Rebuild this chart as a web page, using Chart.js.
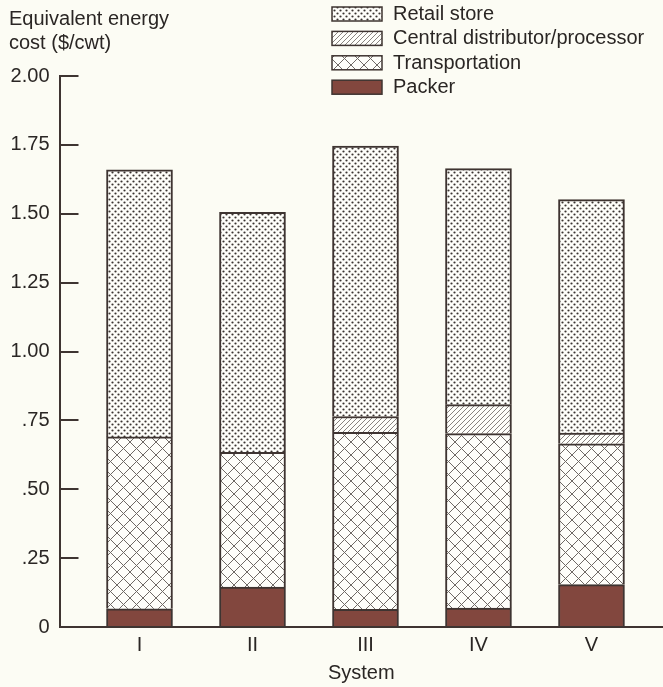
<!DOCTYPE html>
<html>
<head>
<meta charset="utf-8">
<script src="https://cdn.jsdelivr.net/npm/chart.js@4"></script>
<style>
  html, body { margin: 0; padding: 0; background: #fcfcf4; }
  #wrap { width: 663px; height: 687px; }
</style>
</head>
<body>
<div id="wrap"><canvas id="grafico"></canvas></div>
<script>
// data
const categories = ['I', 'II', 'III', 'IV', 'V'];
const packer = [0.066, 0.145, 0.064, 0.069, 0.154];
const transportation = [0.624, 0.489, 0.643, 0.633, 0.511];
const centralDist = [0, 0, 0.057, 0.105, 0.039];
const retail = [0.969, 0.871, 0.982, 0.857, 0.847];
const tickLabels = ['0', '.25', '.50', '.75', '1.00', '1.25', '1.50', '1.75', '2.00'];

const ink = '#3e3431';
const textColor = '#2a2624';
const paper = '#fcfcf4';
const font = '"Liberation Sans", Arial, sans-serif';

function makePattern(w, h, draw) {
    const c = document.createElement('canvas');
    c.width = w; c.height = h;
    const g = c.getContext('2d');
    g.fillStyle = '#fefefa';
    g.fillRect(0, 0, w, h);
    draw(g);
    return c.getContext('2d').createPattern(c, 'repeat');
}

const dots = makePattern(6, 6, function(g) {
    g.fillStyle = '#3a3431';
    [[1.5, 1.5], [4.5, 4.5]].forEach(function(p) {
        g.beginPath(); g.arc(p[0], p[1], 1.1, 0, Math.PI * 2); g.fill();
    });
});

const hatch = makePattern(5, 5, function(g) {
    g.strokeStyle = '#7a7471';
    g.lineWidth = 0.9;
    g.beginPath();
    g.moveTo(-1, 6); g.lineTo(6, -1);
    g.moveTo(-1, 1); g.lineTo(1, -1);
    g.moveTo(4, 6); g.lineTo(6, 4);
    g.stroke();
});

const cross = makePattern(13, 13, function(g) {
    g.strokeStyle = '#6f6965';
    g.lineWidth = 1;
    g.beginPath();
    g.moveTo(0, 0); g.lineTo(13, 13);
    g.moveTo(13, 0); g.lineTo(0, 13);
    g.stroke();
});

function pts(arr) {
    return arr.map(function(v, i) { return { x: i + 1, y: v }; });
}

const series = [
    { label: 'Packer', data: pts(packer), backgroundColor: '#82473e' },
    { label: 'Transportation', data: pts(transportation), backgroundColor: cross },
    { label: 'Central distributor/processor', data: pts(centralDist), backgroundColor: hatch },
    { label: 'Retail store', data: pts(retail), backgroundColor: dots }
];

// title + legend drawn over the top of the chart
const headerPlugin = {
    id: 'header',
    beforeDraw: function(chart) {
        const ctx = chart.ctx;
        ctx.save();
        ctx.fillStyle = paper;
        ctx.fillRect(0, 0, chart.width, chart.height);
        ctx.restore();
    },
    afterDraw: function(chart) {
        const ctx = chart.ctx;
        ctx.save();
        ctx.font = '20px ' + font;
        ctx.fillStyle = textColor;
        ctx.textBaseline = 'alphabetic';
        ctx.fillText('Equivalent energy', 9, 25);
        ctx.fillText('cost ($/cwt)', 9, 49);

        const sets = chart.data.datasets.slice().reverse();
        sets.forEach(function(ds, i) {
            const top = 7 + i * 24.4;
            ctx.fillStyle = ds.backgroundColor;
            ctx.fillRect(332, top, 50, 14);
            ctx.strokeStyle = ink;
            ctx.lineWidth = 1.5;
            ctx.strokeRect(332, top, 50, 14);
            ctx.fillStyle = textColor;
            ctx.textBaseline = 'middle';
            ctx.fillText(ds.label, 393, top + 7.5);
        });
        ctx.restore();
    }
};

const ctx = document.getElementById('grafico').getContext('2d');
const grafico = new Chart(ctx, {
    type: 'bar',
    data: { datasets: series },
    options: {
        responsive: true,
        maintainAspectRatio: false,
        animation: false,
        layout: { padding: { top: 76, left: 9, right: 0, bottom: 4 } },
        datasets: {
            bar: {
                barThickness: 66,
                borderWidth: 2,
                borderColor: ink
            }
        },
        plugins: {
            legend: { display: false },
            tooltip: { enabled: false }
        },
        scales: {
            x: {
                type: 'linear',
                stacked: true,
                offset: false,
                min: 0.292,
                max: 5.633,
                afterBuildTicks: function(scale) {
                    scale.ticks = categories.map(function(c, i) { return { value: i + 1 }; });
                },
                ticks: {
                    color: textColor,
                    font: { family: font, size: 20, lineHeight: 1 },
                    padding: 8,
                    maxRotation: 0,
                    callback: function(value) { return categories[value - 1]; }
                },
                grid: { display: false, drawTicks: false },
                border: { display: true, color: ink, width: 2 },
                title: {
                    display: true,
                    text: 'System',
                    color: textColor,
                    font: { family: font, size: 20, lineHeight: 1 },
                    padding: { top: 0, bottom: 0 }
                }
            },
            y: {
                stacked: true,
                min: 0,
                max: 2,
                afterFit: function(scale) { scale.width = 50.5; },
                ticks: {
                    stepSize: 0.25,
                    color: textColor,
                    font: { family: font, size: 20 },
                    padding: 29,
                    callback: function(value, index) { return tickLabels[index]; }
                },
                grid: {
                    drawOnChartArea: false,
                    tickLength: -19,
                    color: ink,
                    lineWidth: 2
                },
                border: { display: true, color: ink, width: 2 }
            }
        }
    },
    plugins: [headerPlugin]
});
</script>
</body>
</html>
